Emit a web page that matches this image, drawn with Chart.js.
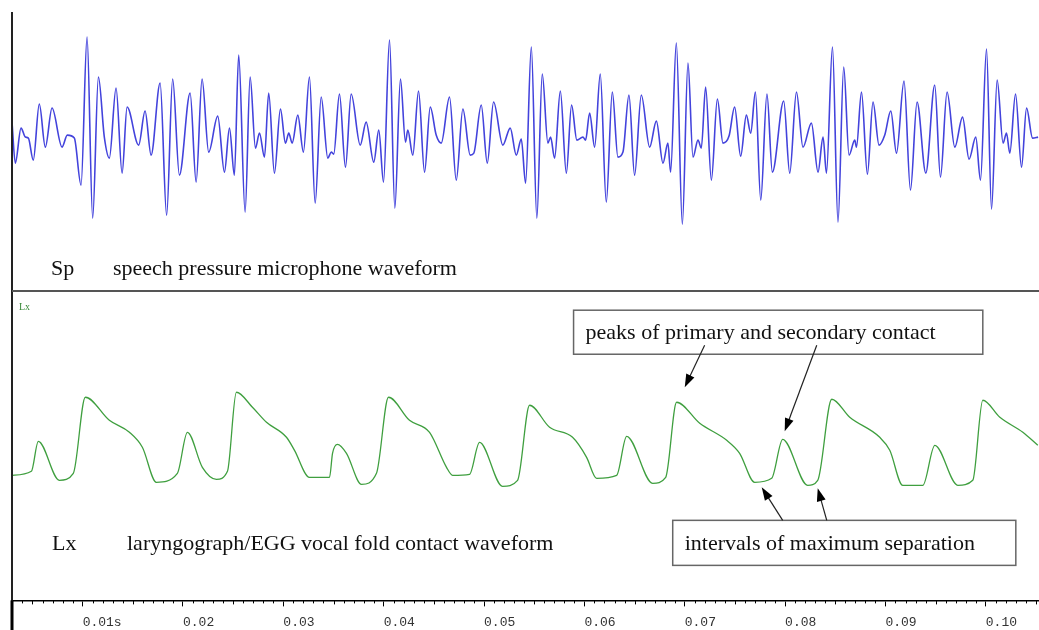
<!DOCTYPE html>
<html>
<head>
<meta charset="utf-8">
<script src="https://cdn.jsdelivr.net/npm/chart.js@4.4.1/dist/chart.umd.min.js"></script>
<style>
  body { margin: 0; background: #fff; }
  #wrap { width: 1039px; height: 630px; position: relative; }
</style>
</head>
<body>
<div id="wrap"><canvas id="wave"></canvas></div>
<script>
// time in ms
var spTime = [2.96,3.29,3.86,4.29,4.59,5.08,5.68,6.28,6.95,7.95,8.47,9.17,9.84,10.44,11.00,11.57,12.16,12.66,13.33,13.93,
  14.43,15.58,16.22,16.82,17.72,18.37,18.97,19.64,20.71,21.31,21.90,22.56,23.46,24.13,24.63,25.12,25.55,26.19,26.69,27.22,
  27.62,28.12,28.54,29.11,29.71,30.21,30.54,30.88,31.44,32.00,32.60,33.17,33.77,34.43,34.77,35.02,35.59,36.19,36.76,37.66,
  38.25,39.01,39.51,39.98,40.58,41.11,41.67,42.17,42.40,42.90,43.47,44.07,44.64,45.23,45.73,46.56,47.23,47.89,48.62,48.98,
  49.72,50.32,50.95,51.87,52.61,53.21,53.71,54.14,54.71,55.26,55.80,56.36,56.63,57.03,57.60,58.20,58.72,59.25,59.85,60.12,
  60.52,61.02,61.58,62.18,62.78,63.34,63.84,64.44,65.00,65.67,66.50,67.17,67.83,68.32,68.59,69.16,69.76,70.32,70.82,71.32,
  71.65,72.08,72.65,73.25,73.81,74.41,74.97,75.57,76.14,76.57,77.04,77.57,78.19,78.73,79.86,80.46,81.13,81.78,82.62,83.28,
  83.78,84.12,84.72,85.27,85.84,86.37,86.94,87.11,87.61,88.20,88.76,89.36,89.93,90.53,91.10,91.85,92.49,93.15,94.02,94.91,
  95.48,96.14,96.91,97.68,98.33,99.00,99.47,100.07,100.57,101.13,101.72,102.06,102.39,102.96,103.56,104.06,104.66,105.21];
var spValue = [13,-28,7,-2,-3,-25,31,-12,27,-12,0,-3,-50,98,-83,58,-2,-23,47,-38,
  28,-10,24,-20,52,-80,56,-40,42,-47,56,-17,19,-37,7,-40,80,-77,58,-13,
  2,-22,42,-38,26,-8,2,-8,20,-17,58,-68,38,-23,-17,-19,41,-32,41,-10,
  13,-27,5,-47,95,-73,56,-7,5,-20,44,-37,28,0,-8,38,-45,26,-20,-18,
  30,-28,33,-10,7,-20,-4,-48,88,-83,61,-8,-2,-23,44,-38,30,-5,-2,-5,
  22,-12,61,-67,43,-22,-17,40,-40,40,-12,14,-28,-8,-37,92,-89,72,-22,-5,
  -13,48,-45,36,-8,-1,28,-21,20,2,43,-65,41,-37,34,-38,43,-12,12,-37,
  -2,-38,88,-87,68,-20,-5,-12,43,-39,33,-10,0,24,-18,54,-55,33,-38,50,
  -42,43,-12,18,-24,-2,-45,86,-74,55,-8,2,-18,41,-32,27,-3,-2];

var lxTime = [2.96,4.89,5.58,7.68,9.07,10.27,12.66,14.66,15.95,17.35,19.44,20.44,21.93,23.33,24.43,25.32,26.92,28.32,30.31,31.11,
  32.60,34.60,34.90,35.39,36.29,37.79,39.28,40.48,42.57,44.57,46.26,46.86,48.55,49.55,51.84,53.34,54.54,56.53,58.82,60.22,
  61.22,63.21,64.21,66.80,68.10,69.19,71.49,74.18,75.47,76.97,78.66,79.76,82.25,83.25,84.65,86.44,89.43,90.43,91.72,93.72,
  94.92,97.21,98.70,99.70,101.40,103.69,105.18];
var lxValue = [15,19,49,10,17,93,70,58,43,8,17,58,23,11,19,98,83,68,53,40,
  13,13,37,46,37,6,17,93,70,58,23,15,16,48,4,10,85,63,53,33,
  12,15,54,7,13,88,67,50,37,8,12,51,5,10,91,73,53,40,5,5,
  45,5,10,90,73,58,45];

var tickValues = [10,20,30,40,50,60,70,80,90,100];
var tickLabels = ['0.01s','0.02','0.03','0.04','0.05','0.06','0.07','0.08','0.09','0.10'];

// annotation boxes and arrows, in (ms, Lx value) units
var notes = {
  peaks: { text: 'peaks of primary and secondary contact', x0: 58.92, x1: 99.70, top: 180, bottom: 136,
    arrows: [[71.98,145,70.0,103],[83.15,145,79.96,59]] },
  gaps: { text: 'intervals of maximum separation', x0: 68.80, x1: 102.99, top: -30, bottom: -75,
    arrows: [[79.76,-30,77.67,3],[84.15,-30,83.25,2]] }
};

function pts(xs, ys) {
  return xs.map(function(t, i) { return { x: t, y: ys[i] }; });
}

var serif = '"Liberation Serif", "Times New Roman", serif';

function arrow(ctx, x1, y1, x2, y2) {
  var a = Math.atan2(y2 - y1, x2 - x1);
  var len = 13, w = 4.5;
  ctx.beginPath();
  ctx.moveTo(x1, y1);
  ctx.lineTo(x2 - Math.cos(a) * len * 0.8, y2 - Math.sin(a) * len * 0.8);
  ctx.stroke();
  ctx.beginPath();
  ctx.moveTo(x2, y2);
  ctx.lineTo(x2 - Math.cos(a) * len - Math.sin(a) * w, y2 - Math.sin(a) * len + Math.cos(a) * w);
  ctx.lineTo(x2 - Math.cos(a) * len + Math.sin(a) * w, y2 - Math.sin(a) * len - Math.cos(a) * w);
  ctx.closePath();
  ctx.fill();
}

var decor = {
  id: 'decor',
  afterDraw: function(chart) {
    var ctx = chart.ctx, ca = chart.chartArea;
    var xs = chart.scales.x, ly = chart.scales.yLx;
    ctx.save();

    // minor ticks every 1 ms
    ctx.strokeStyle = '#000';
    ctx.lineWidth = 1;
    for (var t = 3; t <= 105; t++) {
      if (t % 10 === 0) continue;
      var px = Math.round(xs.getPixelForValue(t)) + 0.5;
      ctx.beginPath();
      ctx.moveTo(px, ca.bottom);
      ctx.lineTo(px, ca.bottom + (t % 5 === 0 ? 4 : 3));
      ctx.stroke();
    }

    // left frame line
    ctx.strokeStyle = '#222';
    ctx.lineWidth = 2;
    ctx.beginPath();
    ctx.moveTo(ca.left, 12);
    ctx.lineTo(ca.left, chart.height);
    ctx.stroke();
    ctx.fillStyle = '#000';
    ctx.fillRect(ca.left - 1.5, ca.bottom, 3, chart.height - ca.bottom);

    // panel separator
    ctx.strokeStyle = '#555';
    ctx.lineWidth = 2;
    ctx.beginPath();
    ctx.moveTo(ca.left, 291);
    ctx.lineTo(ca.right, 291);
    ctx.stroke();

    // panel captions
    ctx.fillStyle = '#111';
    ctx.font = '22px ' + serif;
    ctx.textBaseline = 'alphabetic';
    ctx.fillText('Sp', 51, 275);
    ctx.fillText('speech pressure microphone waveform', 113, 275);
    ctx.fillText('Lx', 52, 550);
    ctx.fillText('laryngograph/EGG vocal fold contact waveform', 127, 550);
    ctx.fillStyle = '#3a8a3a';
    ctx.font = '10px ' + serif;
    ctx.fillText('Lx', 19, 310);

    // annotations
    [notes.peaks, notes.gaps].forEach(function(n) {
      var bx0 = xs.getPixelForValue(n.x0), bx1 = xs.getPixelForValue(n.x1);
      var by0 = ly.getPixelForValue(n.top), by1 = ly.getPixelForValue(n.bottom);
      ctx.fillStyle = '#fff';
      ctx.fillRect(bx0, by0, bx1 - bx0, by1 - by0);
      ctx.strokeStyle = '#666';
      ctx.lineWidth = 1.5;
      ctx.strokeRect(bx0, by0, bx1 - bx0, by1 - by0);
      ctx.fillStyle = '#111';
      ctx.font = '22px ' + serif;
      ctx.fillText(n.text, bx0 + 12, by1 - 15);
      ctx.strokeStyle = '#222';
      ctx.fillStyle = '#000';
      ctx.lineWidth = 1.2;
      n.arrows.forEach(function(a) {
        arrow(ctx, xs.getPixelForValue(a[0]), ly.getPixelForValue(a[1]),
          xs.getPixelForValue(a[2]), ly.getPixelForValue(a[3]));
      });
    });
    ctx.restore();
  }
};

new Chart(document.getElementById('wave'), {
  type: 'line',
  data: {
    datasets: [
      { label: 'Sp', data: pts(spTime, spValue), yAxisID: 'ySp', borderColor: '#4343dc',
        borderWidth: 1.6, pointRadius: 0, cubicInterpolationMode: 'monotone', fill: false },
      { label: 'Lx', data: pts(lxTime, lxValue), yAxisID: 'yLx', borderColor: '#3f9f3f',
        borderWidth: 1.3, pointRadius: 0, cubicInterpolationMode: 'monotone', fill: false }
    ]
  },
  options: {
    responsive: true,
    maintainAspectRatio: false,
    animation: false,
    layout: { padding: { left: 12, right: 0, top: 0, bottom: -8 } },
    plugins: { legend: { display: false }, tooltip: { enabled: false } },
    scales: {
      x: {
        type: 'linear',
        position: 'bottom',
        min: 2.96,
        max: 105.3,
        afterBuildTicks: function(axis) {
          axis.ticks = tickValues.map(function(v) { return { value: v }; });
        },
        ticks: {
          align: 'start',
          autoSkip: false,
          maxRotation: 0,
          padding: 8,
          color: '#333',
          font: { family: '"Liberation Mono", "Courier New", monospace', size: 13 },
          callback: function(v) {
            var i = tickValues.indexOf(v);
            return i >= 0 ? tickLabels[i] : '';
          }
        },
        grid: { drawOnChartArea: false, drawTicks: true, tickLength: 6, color: '#000' },
        border: { display: true, color: '#000', width: 1.5 }
      },
      ySp: { display: false, min: -465, max: 135 },
      yLx: { display: false, min: -110, max: 490 }
    }
  },
  plugins: [decor]
});
</script>
</body>
</html>
